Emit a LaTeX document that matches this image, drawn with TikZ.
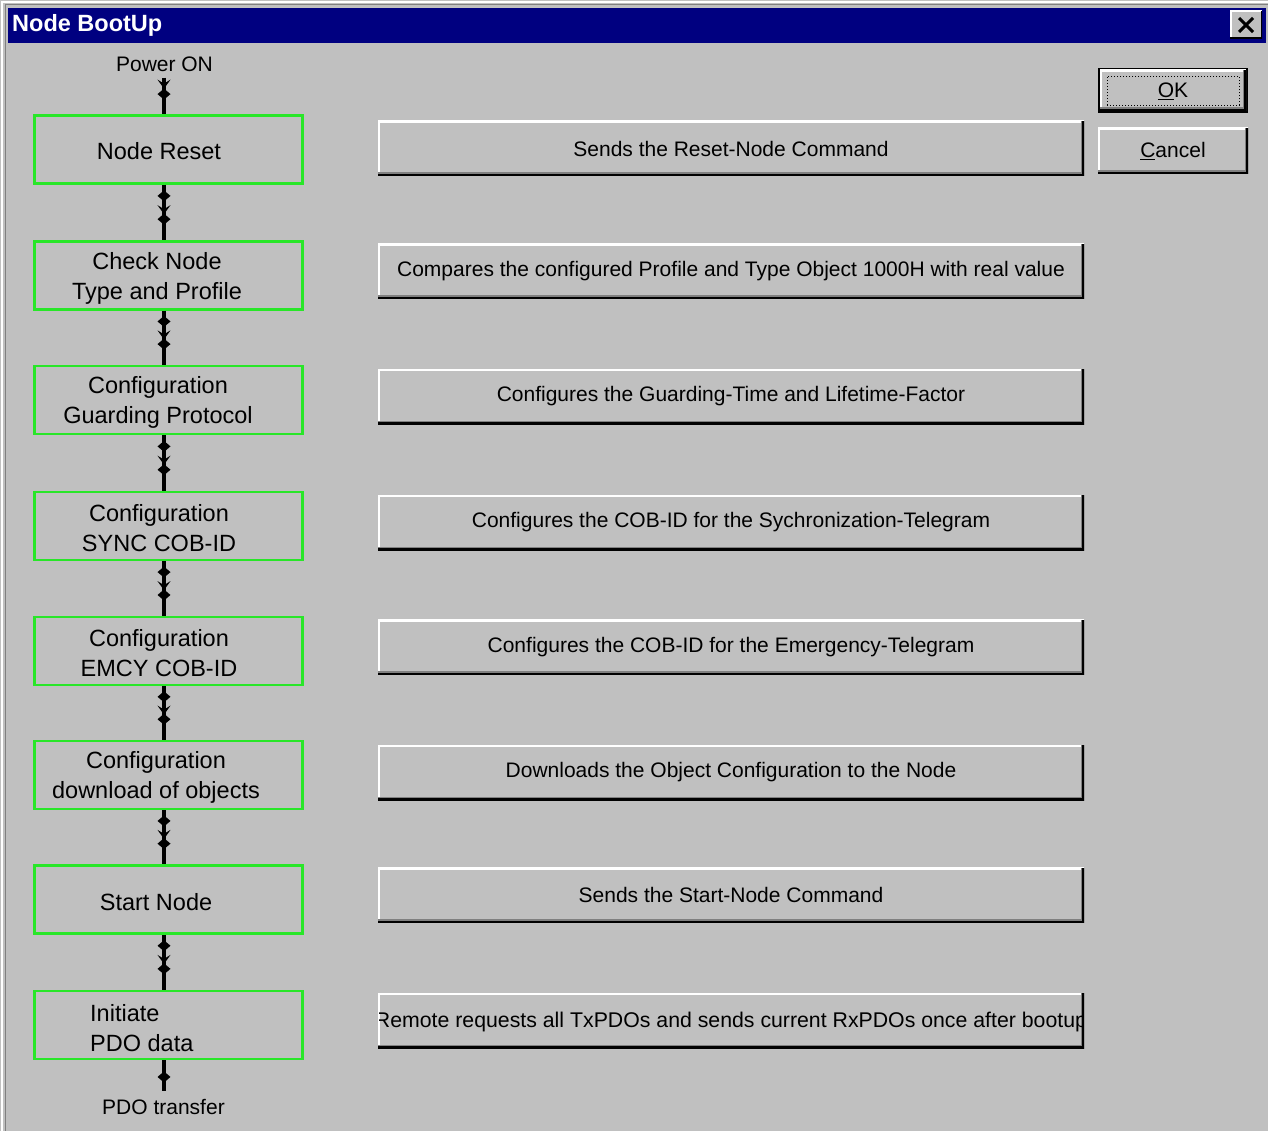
\documentclass[tikz,border=0pt]{standalone}
\usepackage{fontspec}
\setmainfont{Liberation Sans}
\usetikzlibrary{decorations.markings,arrows.meta}
\definecolor{wingray}{RGB}{192,192,192}
\definecolor{winnavy}{RGB}{0,0,128}
\definecolor{dkgray}{RGB}{128,128,128}
\definecolor{boxgreen}{RGB}{40,230,40}
\tikzset{
  stepbox/.style={draw=boxgreen, line width=2.5pt, minimum width=268pt, minimum height=68pt, inner sep=0pt},
  boxtext/.style={align=center, inner sep=0pt, font=\fontsize{23.5}{30}\selectfont},
  winbtn/.style={fill=wingray, minimum width=706pt, minimum height=55pt, inner sep=0pt,
    font=\fontsize{21}{24}\selectfont,
    path picture={
      \draw[white, line width=4pt] (path picture bounding box.south west) |- (path picture bounding box.north east);
      \draw[dkgray, line width=7pt] (path picture bounding box.south west) -| (path picture bounding box.north east);
      \draw[black, line width=4pt] (path picture bounding box.south west) -| (path picture bounding box.north east);
    }},
  lbl/.style={inner sep=0pt, font=\fontsize{21}{24}\selectfont},
  conn/.style={line width=4pt, postaction={decorate}, decoration={markings,
      mark=at position 0.3 with {\arrow{Diamond[length=11pt,width=13pt]}},
      mark=at position 0.53 with {\arrow{Stealth[length=9pt,width=13pt,inset=4pt]}},
      mark=at position 0.72 with {\arrow{Diamond[length=11pt,width=13pt]}}}},
  conn0/.style={line width=4pt, postaction={decorate}, decoration={markings,
      mark=at position 0.3 with {\arrow{Stealth[length=9pt,width=13pt,inset=4pt]}},
      mark=at position 0.6 with {\arrow{Diamond[length=11pt,width=13pt]}}}},
  conn1/.style={line width=4pt, postaction={decorate}, decoration={markings,
      mark=at position 0.72 with {\arrow{Diamond[length=11pt,width=13pt]}}}},
}
\begin{document}
\begin{tikzpicture}[x=1pt,y=-1pt]
\useasboundingbox (0,0) rectangle (1268,1131);
\fill[wingray] (0,0) rectangle (1268,1131);
\draw[white, line width=2pt] (2,1131) -- (2,2) -- (1268,2);
\draw[dkgray, line width=1pt] (5,1131) -- (5,5) -- (1268,5);
% title bar
\fill[winnavy] (8,8) rectangle (1266,43);
\node[anchor=west, text=white, inner sep=0pt, font=\fontsize{23.5}{26}\selectfont\bfseries] (title) at (12,25.5) {Node BootUp};
\node[fill=wingray, minimum width=32pt, minimum height=28pt, inner sep=0pt,
  path picture={
      \draw[white, line width=3pt] (path picture bounding box.south west) |- (path picture bounding box.north east);
      \draw[black, line width=3pt] (path picture bounding box.south west) -| (path picture bounding box.north east);
      \draw[line width=3pt] ([shift={(9pt,-7pt)}]path picture bounding box.north west) -- ([shift={(-9pt,7pt)}]path picture bounding box.south east);
      \draw[line width=3pt] ([shift={(9pt,7pt)}]path picture bounding box.south west) -- ([shift={(-9pt,-7pt)}]path picture bounding box.north east);
  }] (close) at (1246,25) {};

% left chain
\node[lbl] (pw) at (164.5,64) {Power ON};
\node[stepbox] (n1) at (168.5,149.5) {};
\node[stepbox] (n2) at (168.5,275.5) {};
\node[stepbox] (n3) at (168.5,400) {};
\node[stepbox] (n4) at (168.5,526) {};
\node[stepbox] (n5) at (168.5,651) {};
\node[stepbox] (n6) at (168.5,775) {};
\node[stepbox] (n7) at (168.5,899.5) {};
\node[stepbox] (n8) at (168.5,1025) {};
\node[boxtext] (n1t) at (159,151.5) {Node Reset};
\node[boxtext] (n2t) at (157,278) {Check Node\\Type and Profile};
\node[boxtext] (n3t) at (158,402.5) {Configuration\\Guarding Protocol};
\node[boxtext] (n4t) at (159,528.5) {Configuration\\SYNC COB-ID};
\node[boxtext] (n5t) at (159,653.5) {Configuration\\EMCY COB-ID};
\node[boxtext] (n6t) at (156,777.5) {Configuration\\download of objects};
\node[boxtext] (n7t) at (156,902) {Start Node};
\node[boxtext, anchor=west, align=left] (n8t) at (90,1028) {Initiate\\PDO data};
\node[lbl] (pt) at (163.5,1107) {PDO transfer};

\draw[conn0] ([yshift=-6pt]pw.south -| n1.south) ++(-4.5pt,0) coordinate (c0) (c0) -- (n1.north -| c0);
\foreach \a/\b in {n1/n2,n2/n3,n3/n4,n4/n5,n5/n6,n6/n7,n7/n8}
  \draw[conn] (\a.south -| c0) -- (\b.north -| c0);
\draw[conn1] (n8.south -| c0) -- ([yshift=8pt]pt.north -| c0);

% right buttons
\node[winbtn] (b1) at (731,148.5) {Sends the Reset-Node Command};
\node[winbtn] (b2) at (731,271.5) {Compares the configured Profile and Type Object 1000H with real value};
\node[winbtn] (b3) at (731,396.5) {Configures the Guarding-Time and Lifetime-Factor};
\node[winbtn] (b4) at (731,522.5) {Configures the COB-ID for the Sychronization-Telegram};
\node[winbtn] (b5) at (731,647) {Configures the COB-ID for the Emergency-Telegram};
\node[winbtn] (b6) at (731,772.5) {Downloads the Object Configuration to the Node};
\node[winbtn] (b7) at (731,895) {Sends the Start-Node Command};
\node[winbtn] (b8) at (731,1020.5) {};
\begin{scope}
  \clip ([shift={(2pt,-3pt)}]b8.south west) rectangle ([shift={(-3pt,2pt)}]b8.north east);
  \node[lbl] (b8t) at (731,1022) {\resizebox{712pt}{!}{Remote requests all TxPDOs and sends current RxPDOs once after bootup}};
\end{scope}

% OK / Cancel
\node[fill=black, minimum width=150pt, minimum height=45pt, inner sep=0pt] (okout) at (1173,90.5) {};
\node[winbtn, minimum width=146pt, minimum height=41pt] (ok) at (1173,90.5) {};
\node[draw, dotted, line width=1pt, minimum width=132pt, minimum height=29pt, inner sep=0pt, lbl] (okf) at (1173,91) {\underline{O}K};
\node[winbtn, minimum width=150pt, minimum height=46pt] (cancel) at (1173,151) {\underline{C}ancel};
\end{tikzpicture}
\end{document}
